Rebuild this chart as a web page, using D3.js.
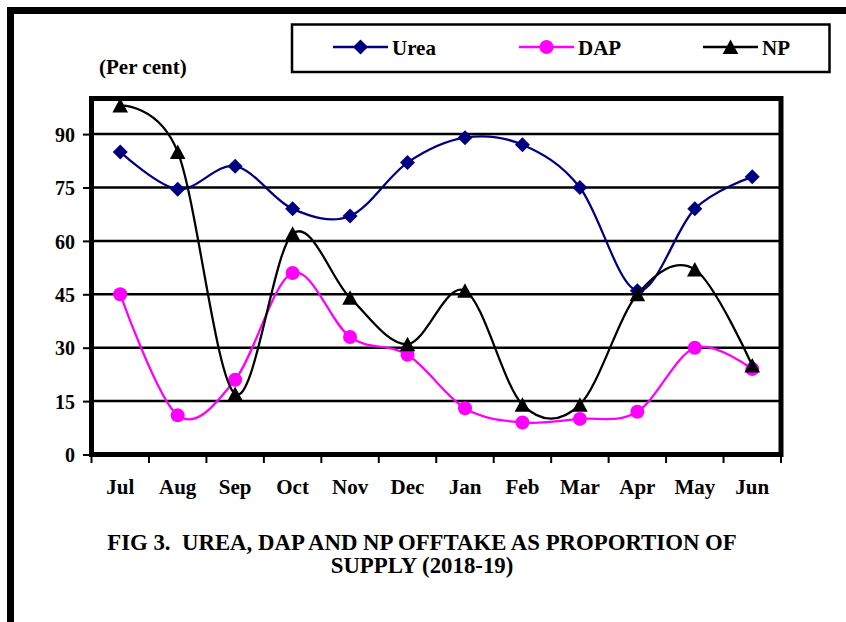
<!DOCTYPE html>
<html>
<head>
<meta charset="utf-8">
<script src="https://cdn.jsdelivr.net/npm/d3@7"></script>
<style>
  html, body { margin: 0; padding: 0; background: #fff; }
  svg { display: block; }
  text { font-family: "Liberation Serif", "Times New Roman", serif; font-weight: bold; fill: #000; }
</style>
</head>
<body>
<svg id="chart" width="846" height="622"></svg>
<script>
const months = ["Jul","Aug","Sep","Oct","Nov","Dec","Jan","Feb","Mar","Apr","May","Jun"];
const urea = [85, 74.5, 81, 69, 67, 82, 89, 87, 75, 46, 69, 78];
const dap  = [45, 11, 21, 51, 33, 28, 13, 9, 10, 12, 30, 24];
const np   = [98, 85, 17, 62, 44, 31, 46, 14, 14, 45, 52, 25];
const yTicks = [0, 15, 30, 45, 60, 75, 90];
const seriesNames = ["Urea", "DAP", "NP"];
const titleLines = ["FIG 3.  UREA, DAP AND NP OFFTAKE AS PROPORTION OF", "SUPPLY (2018-19)"];
const unitLabel = "(Per cent)";

const FONT = "'Liberation Serif', 'Times New Roman', serif";
const svg = d3.select("#chart");
const W = 846, H = 622;
svg.append("rect").attr("width", W).attr("height", H).attr("fill", "#fff");

// outer frame (continues beyond right and bottom edges)
svg.append("rect").attr("x", 10.5).attr("y", 10.5).attr("width", 900).attr("height", 700)
  .attr("fill", "none").attr("stroke", "#000").attr("stroke-width", 7);

const L = 91.5, R = 781, T = 98.5, B = 454.5;
const x = d3.scaleBand().domain(months).range([L, R]).padding(0);
const y = d3.scaleLinear().domain([0, 100]).range([B, T]);
const cx = m => x(m) + x.bandwidth() / 2;

// gridlines
svg.append("g").selectAll("line").data(yTicks.filter(d => d > 0)).join("line")
  .attr("x1", L).attr("x2", R).attr("y1", d => y(d)).attr("y2", d => y(d))
  .attr("stroke", "#000").attr("stroke-width", 2.5);

// y axis
const yAxis = svg.append("g").attr("transform", `translate(${L - 2.5},0)`)
  .call(d3.axisLeft(y).tickValues(yTicks).tickSize(6).tickPadding(8).tickFormat(d3.format("d")));
yAxis.select(".domain").remove();
yAxis.selectAll(".tick line").attr("stroke", "#000").attr("stroke-width", 2);
yAxis.selectAll(".tick text").attr("font-size", 20).style("font-family", FONT)
  .style("font-weight", "bold").attr("fill", "#000").attr("dy", "0.36em");

// x axis ticks
const xAxis = svg.append("g").attr("transform", `translate(0,${B + 2.5})`);
const tickPos = months.map(m => x(m)).concat([R]);
xAxis.selectAll("line").data(tickPos).join("line")
  .attr("x1", d => d).attr("x2", d => d).attr("y1", 0).attr("y2", 6)
  .attr("stroke", "#000").attr("stroke-width", 2);
svg.append("g").selectAll("text").data(months).join("text")
  .attr("x", d => cx(d)).attr("y", 494).attr("text-anchor", "middle")
  .attr("font-size", 21).style("font-family", FONT).text(d => d);

// plot frame
svg.append("rect").attr("x", L).attr("y", T).attr("width", R - L).attr("height", B - T)
  .attr("fill", "none").attr("stroke", "#000").attr("stroke-width", 5);

// series
const colors = ["#000080", "#FF00FF", "#000000"];
const data = [urea, dap, np];
const diamond = "M0,-7.5L7.5,0L0,7.5L-7.5,0Z";
const triangle = "M0,-7.5L7.8,7L-7.8,7Z";
function marker(g, i, px, py) {
  if (i === 0) g.append("path").attr("d", diamond).attr("transform", `translate(${px},${py})`).attr("fill", colors[i]);
  else if (i === 1) g.append("circle").attr("cx", px).attr("cy", py).attr("r", 7).attr("fill", colors[i]);
  else g.append("path").attr("d", triangle).attr("transform", `translate(${px},${py})`).attr("fill", colors[i]);
}
const line = d3.line().x((d, j) => cx(months[j])).y(d => y(d)).curve(d3.curveCardinal.tension(0));
data.forEach((vals, i) => {
  const g = svg.append("g");
  g.append("path").attr("d", line(vals)).attr("fill", "none").attr("stroke", colors[i]).attr("stroke-width", 2.25);
  vals.forEach((v, j) => marker(g, i, cx(months[j]), y(v)));
});

// legend
svg.append("rect").attr("x", 292).attr("y", 24.5).attr("width", 537.5).attr("height", 47.5)
  .attr("fill", "#fff").attr("stroke", "#000").attr("stroke-width", 2.5);
const legX = [333, 519, 703];
seriesNames.forEach((n, i) => {
  const g = svg.append("g");
  g.append("line").attr("x1", legX[i]).attr("x2", legX[i] + 55).attr("y1", 47).attr("y2", 47)
    .attr("stroke", colors[i]).attr("stroke-width", 2.5);
  marker(g, i, legX[i] + 27.5, 47);
  g.append("text").attr("x", legX[i] + 59).attr("y", 54.5).attr("font-size", 21)
    .style("font-family", FONT).text(n);
});

// unit label
svg.append("text").attr("x", 99).attr("y", 74).attr("font-size", 21).style("font-family", FONT).text(unitLabel);

// title
svg.append("g").selectAll("text").data(titleLines).join("text")
  .attr("x", 422).attr("y", (d, i) => 550 + i * 23).attr("text-anchor", "middle")
  .attr("font-size", 22.8).style("font-family", FONT).style("white-space", "pre").text(d => d);
</script>
</body>
</html>
